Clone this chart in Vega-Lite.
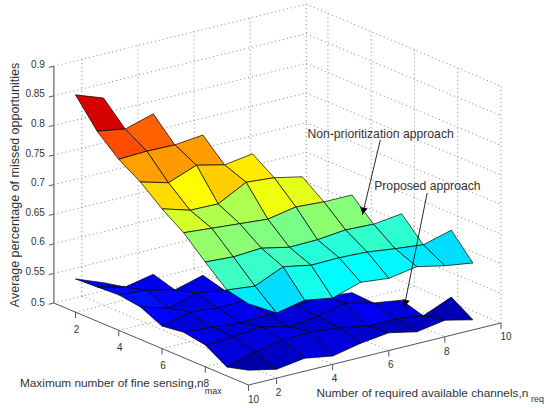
{"$schema":"https://vega.github.io/schema/vega-lite/v6.json","width":544,"height":408,"padding":0,"autosize":{"type":"fit","contains":"padding"},"background":"white","config":{"view":{"stroke":null}},
"datasets":{
"surface":[
{"s":"b","m":2,"r":2,"z":0.538},{"s":"b","m":2,"r":1,"z":0.556},
{"s":"b","m":3,"r":3,"z":0.556},{"s":"b","m":3,"r":2,"z":0.546},{"s":"b","m":3,"r":1,"z":0.558},
{"s":"b","m":4,"r":4,"z":0.558},{"s":"b","m":4,"r":3,"z":0.545},{"s":"b","m":4,"r":2,"z":0.556},{"s":"b","m":4,"r":1,"z":0.56},
{"s":"b","m":5,"r":5,"z":0.54},{"s":"b","m":5,"r":4,"z":0.548},{"s":"b","m":5,"r":3,"z":0.555},{"s":"b","m":5,"r":2,"z":0.541},{"s":"b","m":5,"r":1,"z":0.555},
{"s":"b","m":6,"r":6,"z":0.527},{"s":"b","m":6,"r":5,"z":0.539},{"s":"b","m":6,"r":4,"z":0.547},{"s":"b","m":6,"r":3,"z":0.545},{"s":"b","m":6,"r":2,"z":0.55},{"s":"b","m":6,"r":1,"z":0.538},
{"s":"b","m":7,"r":7,"z":0.54},{"s":"b","m":7,"r":6,"z":0.544},{"s":"b","m":7,"r":5,"z":0.542},{"s":"b","m":7,"r":4,"z":0.537},{"s":"b","m":7,"r":3,"z":0.535},{"s":"b","m":7,"r":2,"z":0.54},{"s":"b","m":7,"r":1,"z":0.543},
{"s":"b","m":8,"r":8,"z":0.531},{"s":"b","m":8,"r":7,"z":0.538},{"s":"b","m":8,"r":6,"z":0.549},{"s":"b","m":8,"r":5,"z":0.539},{"s":"b","m":8,"r":4,"z":0.532},{"s":"b","m":8,"r":3,"z":0.544},{"s":"b","m":8,"r":2,"z":0.539},{"s":"b","m":8,"r":1,"z":0.537},
{"s":"b","m":9,"r":9,"z":0.54},{"s":"b","m":9,"r":8,"z":0.52},{"s":"b","m":9,"r":7,"z":0.526},{"s":"b","m":9,"r":6,"z":0.526},{"s":"b","m":9,"r":5,"z":0.534},{"s":"b","m":9,"r":4,"z":0.539},{"s":"b","m":9,"r":3,"z":0.537},{"s":"b","m":9,"r":2,"z":0.529},{"s":"b","m":9,"r":1,"z":0.515},
{"s":"b","m":10,"r":9,"z":0.517},{"s":"b","m":10,"r":8,"z":0.528},{"s":"b","m":10,"r":7,"z":0.52},{"s":"b","m":10,"r":6,"z":0.53},{"s":"b","m":10,"r":5,"z":0.524},{"s":"b","m":10,"r":4,"z":0.514},{"s":"b","m":10,"r":3,"z":0.522},{"s":"b","m":10,"r":2,"z":0.515},{"s":"b","m":10,"r":1,"z":0.525},
{"s":"u","m":2,"r":2,"z":0.85},{"s":"u","m":2,"r":1,"z":0.867},
{"s":"u","m":3,"r":3,"z":0.827},{"s":"u","m":3,"r":2,"z":0.813},{"s":"u","m":3,"r":1,"z":0.821},
{"s":"u","m":4,"r":4,"z":0.795},{"s":"u","m":4,"r":3,"z":0.79},{"s":"u","m":4,"r":2,"z":0.791},{"s":"u","m":4,"r":1,"z":0.789},
{"s":"u","m":5,"r":5,"z":0.767},{"s":"u","m":5,"r":4,"z":0.76},{"s":"u","m":5,"r":3,"z":0.771},{"s":"u","m":5,"r":2,"z":0.753},{"s":"u","m":5,"r":1,"z":0.766},
{"s":"u","m":6,"r":6,"z":0.732},{"s":"u","m":6,"r":5,"z":0.742},{"s":"u","m":6,"r":4,"z":0.746},{"s":"u","m":6,"r":3,"z":0.721},{"s":"u","m":6,"r":2,"z":0.722},{"s":"u","m":6,"r":1,"z":0.736},
{"s":"u","m":7,"r":7,"z":0.705},{"s":"u","m":7,"r":6,"z":0.705},{"s":"u","m":7,"r":5,"z":0.708},{"s":"u","m":7,"r":4,"z":0.699},{"s":"u","m":7,"r":3,"z":0.703},{"s":"u","m":7,"r":2,"z":0.707},{"s":"u","m":7,"r":1,"z":0.711},
{"s":"u","m":8,"r":8,"z":0.677},{"s":"u","m":8,"r":7,"z":0.671},{"s":"u","m":8,"r":6,"z":0.673},{"s":"u","m":8,"r":5,"z":0.668},{"s":"u","m":8,"r":4,"z":0.667},{"s":"u","m":8,"r":3,"z":0.677},{"s":"u","m":8,"r":2,"z":0.674},{"s":"u","m":8,"r":1,"z":0.677},
{"s":"u","m":9,"r":9,"z":0.653},{"s":"u","m":9,"r":8,"z":0.64},{"s":"u","m":9,"r":7,"z":0.645},{"s":"u","m":9,"r":6,"z":0.651},{"s":"u","m":9,"r":5,"z":0.653},{"s":"u","m":9,"r":4,"z":0.652},{"s":"u","m":9,"r":3,"z":0.661},{"s":"u","m":9,"r":2,"z":0.64},{"s":"u","m":9,"r":1,"z":0.645},
{"s":"u","m":10,"r":9,"z":0.613},{"s":"u","m":10,"r":8,"z":0.62},{"s":"u","m":10,"r":7,"z":0.63},{"s":"u","m":10,"r":6,"z":0.622},{"s":"u","m":10,"r":5,"z":0.627},{"s":"u","m":10,"r":4,"z":0.612},{"s":"u","m":10,"r":3,"z":0.62},{"s":"u","m":10,"r":2,"z":0.61},{"s":"u","m":10,"r":1,"z":0.637}
],
"grid":[
{"id":"a2","o":0,"r":2,"m":1,"z":0.5},{"id":"a2","o":1,"r":2,"m":1,"z":0.9},
{"id":"a4","o":0,"r":4,"m":1,"z":0.5},{"id":"a4","o":1,"r":4,"m":1,"z":0.9},
{"id":"a6","o":0,"r":6,"m":1,"z":0.5},{"id":"a6","o":1,"r":6,"m":1,"z":0.9},
{"id":"a8","o":0,"r":8,"m":1,"z":0.5},{"id":"a8","o":1,"r":8,"m":1,"z":0.9},
{"id":"a10","o":0,"r":10,"m":1,"z":0.5},{"id":"a10","o":1,"r":10,"m":1,"z":0.9},
{"id":"b2","o":0,"r":10,"m":2,"z":0.5},{"id":"b2","o":1,"r":10,"m":2,"z":0.9},
{"id":"b4","o":0,"r":10,"m":4,"z":0.5},{"id":"b4","o":1,"r":10,"m":4,"z":0.9},
{"id":"b6","o":0,"r":10,"m":6,"z":0.5},{"id":"b6","o":1,"r":10,"m":6,"z":0.9},
{"id":"b8","o":0,"r":10,"m":8,"z":0.5},{"id":"b8","o":1,"r":10,"m":8,"z":0.9},
{"id":"b10","o":0,"r":10,"m":10,"z":0.5},{"id":"b10","o":1,"r":10,"m":10,"z":0.9},
{"id":"h50","o":0,"r":1,"m":1,"z":0.5},{"id":"h50","o":1,"r":10,"m":1,"z":0.5},{"id":"h50","o":2,"r":10,"m":10,"z":0.5},
{"id":"h55","o":0,"r":1,"m":1,"z":0.55},{"id":"h55","o":1,"r":10,"m":1,"z":0.55},{"id":"h55","o":2,"r":10,"m":10,"z":0.55},
{"id":"h60","o":0,"r":1,"m":1,"z":0.6},{"id":"h60","o":1,"r":10,"m":1,"z":0.6},{"id":"h60","o":2,"r":10,"m":10,"z":0.6},
{"id":"h65","o":0,"r":1,"m":1,"z":0.65},{"id":"h65","o":1,"r":10,"m":1,"z":0.65},{"id":"h65","o":2,"r":10,"m":10,"z":0.65},
{"id":"h70","o":0,"r":1,"m":1,"z":0.7},{"id":"h70","o":1,"r":10,"m":1,"z":0.7},{"id":"h70","o":2,"r":10,"m":10,"z":0.7},
{"id":"h75","o":0,"r":1,"m":1,"z":0.75},{"id":"h75","o":1,"r":10,"m":1,"z":0.75},{"id":"h75","o":2,"r":10,"m":10,"z":0.75},
{"id":"h80","o":0,"r":1,"m":1,"z":0.8},{"id":"h80","o":1,"r":10,"m":1,"z":0.8},{"id":"h80","o":2,"r":10,"m":10,"z":0.8},
{"id":"h85","o":0,"r":1,"m":1,"z":0.85},{"id":"h85","o":1,"r":10,"m":1,"z":0.85},{"id":"h85","o":2,"r":10,"m":10,"z":0.85},
{"id":"h90","o":0,"r":1,"m":1,"z":0.9},{"id":"h90","o":1,"r":10,"m":1,"z":0.9},{"id":"h90","o":2,"r":10,"m":10,"z":0.9},
{"id":"f2","o":0,"r":2,"m":1,"z":0.5},{"id":"f2","o":1,"r":2,"m":10,"z":0.5},
{"id":"f4","o":0,"r":4,"m":1,"z":0.5},{"id":"f4","o":1,"r":4,"m":10,"z":0.5},
{"id":"f6","o":0,"r":6,"m":1,"z":0.5},{"id":"f6","o":1,"r":6,"m":10,"z":0.5},
{"id":"f8","o":0,"r":8,"m":1,"z":0.5},{"id":"f8","o":1,"r":8,"m":10,"z":0.5},
{"id":"g2","o":0,"r":1,"m":2,"z":0.5},{"id":"g2","o":1,"r":10,"m":2,"z":0.5},
{"id":"g4","o":0,"r":1,"m":4,"z":0.5},{"id":"g4","o":1,"r":10,"m":4,"z":0.5},
{"id":"g6","o":0,"r":1,"m":6,"z":0.5},{"id":"g6","o":1,"r":10,"m":6,"z":0.5},
{"id":"g8","o":0,"r":1,"m":8,"z":0.5},{"id":"g8","o":1,"r":10,"m":8,"z":0.5}
],
"axes":[
{"id":"z","o":0,"r":1,"m":1,"z":0.5},{"id":"z","o":1,"r":1,"m":1,"z":0.9},
{"id":"mm","o":0,"r":1,"m":1,"z":0.5},{"id":"mm","o":1,"r":1,"m":10,"z":0.5},{"id":"mm","o":2,"r":10,"m":10,"z":0.5},
{"id":"tz50","o":0,"r":1,"m":1,"z":0.5},{"id":"tz50","o":1,"r":0.82,"m":1,"z":0.5},
{"id":"tz55","o":0,"r":1,"m":1,"z":0.55},{"id":"tz55","o":1,"r":0.82,"m":1,"z":0.55},
{"id":"tz60","o":0,"r":1,"m":1,"z":0.6},{"id":"tz60","o":1,"r":0.82,"m":1,"z":0.6},
{"id":"tz65","o":0,"r":1,"m":1,"z":0.65},{"id":"tz65","o":1,"r":0.82,"m":1,"z":0.65},
{"id":"tz70","o":0,"r":1,"m":1,"z":0.7},{"id":"tz70","o":1,"r":0.82,"m":1,"z":0.7},
{"id":"tz75","o":0,"r":1,"m":1,"z":0.75},{"id":"tz75","o":1,"r":0.82,"m":1,"z":0.75},
{"id":"tz80","o":0,"r":1,"m":1,"z":0.8},{"id":"tz80","o":1,"r":0.82,"m":1,"z":0.8},
{"id":"tz85","o":0,"r":1,"m":1,"z":0.85},{"id":"tz85","o":1,"r":0.82,"m":1,"z":0.85},
{"id":"tz90","o":0,"r":1,"m":1,"z":0.9},{"id":"tz90","o":1,"r":0.82,"m":1,"z":0.9},
{"id":"tm2","o":0,"r":1,"m":2,"z":0.5},{"id":"tm2","o":1,"r":1,"m":2,"z":0.49},
{"id":"tm4","o":0,"r":1,"m":4,"z":0.5},{"id":"tm4","o":1,"r":1,"m":4,"z":0.49},
{"id":"tm6","o":0,"r":1,"m":6,"z":0.5},{"id":"tm6","o":1,"r":1,"m":6,"z":0.49},
{"id":"tm8","o":0,"r":1,"m":8,"z":0.5},{"id":"tm8","o":1,"r":1,"m":8,"z":0.49},
{"id":"tm10","o":0,"r":1,"m":10,"z":0.5},{"id":"tm10","o":1,"r":1,"m":10,"z":0.49},
{"id":"tr2","o":0,"r":2,"m":10,"z":0.5},{"id":"tr2","o":1,"r":2,"m":10,"z":0.49},
{"id":"tr4","o":0,"r":4,"m":10,"z":0.5},{"id":"tr4","o":1,"r":4,"m":10,"z":0.49},
{"id":"tr6","o":0,"r":6,"m":10,"z":0.5},{"id":"tr6","o":1,"r":6,"m":10,"z":0.49},
{"id":"tr8","o":0,"r":8,"m":10,"z":0.5},{"id":"tr8","o":1,"r":8,"m":10,"z":0.49},
{"id":"tr10","o":0,"r":10,"m":10,"z":0.5},{"id":"tr10","o":1,"r":10,"m":10,"z":0.49}
],
"labels":[
{"g":"zt","t":"0.5","r":0.68,"m":1,"z":0.504},{"g":"zt","t":"0.55","r":0.68,"m":1,"z":0.556},{"g":"zt","t":"0.6","r":0.68,"m":1,"z":0.606},{"g":"zt","t":"0.65","r":0.68,"m":1,"z":0.656},{"g":"zt","t":"0.7","r":0.68,"m":1,"z":0.706},{"g":"zt","t":"0.75","r":0.68,"m":1,"z":0.756},{"g":"zt","t":"0.8","r":0.68,"m":1,"z":0.806},{"g":"zt","t":"0.85","r":0.68,"m":1,"z":0.856},{"g":"zt","t":"0.9","r":0.68,"m":1,"z":0.906},
{"g":"ct","t":"2","r":1.04,"m":2,"z":0.47},{"g":"ct","t":"4","r":1.04,"m":4,"z":0.47},{"g":"ct","t":"6","r":1.04,"m":6,"z":0.47},{"g":"ct","t":"8","r":1.04,"m":8,"z":0.47},{"g":"ct","t":"10","r":1.18,"m":10,"z":0.473},
{"g":"ct","t":"2","r":2.07,"m":10,"z":0.474},{"g":"ct","t":"4","r":4.07,"m":10,"z":0.474},{"g":"ct","t":"6","r":6.07,"m":10,"z":0.474},{"g":"ct","t":"8","r":8.07,"m":10,"z":0.474},{"g":"ct","t":"10","r":10.18,"m":10,"z":0.474},
{"g":"ti","t":"Maximum number of fine sensing,n","r":1,"m":-0.567,"z":0.3407},
{"g":"ti","t":"Number of required available channels,n","r":3.42,"m":10,"z":0.4583},
{"g":"su","t":"max","r":1,"m":7.97,"z":0.4586},
{"g":"su","t":"req","r":11.07,"m":10,"z":0.3591},
{"g":"an","t":"Non-prioritization approach","r":10.04,"m":1,"z":0.68},
{"g":"an","t":"Proposed approach","r":12.42,"m":1,"z":0.5647},
{"g":"yt","t":"Average percentage of missed opportunities","r":-0.388,"m":1,"z":0.7155}
],
"arrows":[
{"id":"n","o":0,"r":12.64,"m":1,"z":0.64},{"id":"n","o":1,"r":12.0,"m":1,"z":0.5206},
{"id":"p","o":0,"r":14.31,"m":1,"z":0.5309},{"id":"p","o":1,"r":13.49,"m":1,"z":0.3478}
],
"heads":[
{"id":"n","r":12.03,"m":1,"z":0.527},{"id":"p","r":13.53,"m":1,"z":0.354}
]
},
"layer":[
{"data":{"name":"grid"},"transform":[{"calculate":"249+28.1*(datum.r-1)-21.67*(10-datum.m)","as":"sx"},{"calculate":"385-6.89*(datum.r-1)-9.11*(10-datum.m)-(datum.z-0.5)*592","as":"sy"}],
"mark":{"type":"line","stroke":"#666666","strokeWidth":0.8,"strokeDash":[1,3]},
"encoding":{"x":{"field":"sx","type":"quantitative","scale":{"domain":[0,544],"nice":false,"zero":false},"axis":null},"y":{"field":"sy","type":"quantitative","scale":{"domain":[0,408],"reverse":true,"nice":false,"zero":false},"axis":null},"detail":{"field":"id"},"order":{"field":"o","type":"quantitative"}}},
{"data":{"name":"axes"},"transform":[{"filter":"datum.id!='z'"},{"calculate":"249+28.1*(datum.r-1)-21.67*(10-datum.m)","as":"sx"},{"calculate":"385-6.89*(datum.r-1)-9.11*(10-datum.m)-(datum.z-0.5)*592","as":"sy"}],
"mark":{"type":"line","stroke":"#555555","strokeWidth":1},
"encoding":{"x":{"field":"sx","type":"quantitative","axis":null},"y":{"field":"sy","type":"quantitative","axis":null},"detail":{"field":"id"},"order":{"field":"o","type":"quantitative"}}},
{"data":{"name":"axes"},"transform":[{"filter":"datum.id=='z'"},{"calculate":"249+28.1*(datum.r-1)-21.67*(10-datum.m)","as":"sx"},{"calculate":"385-6.89*(datum.r-1)-9.11*(10-datum.m)-(datum.z-0.5)*592","as":"sy"}],
"mark":{"type":"line","stroke":"#808080","strokeWidth":1.5},
"encoding":{"x":{"field":"sx","type":"quantitative","axis":null},"y":{"field":"sy","type":"quantitative","axis":null},"detail":{"field":"id"},"order":{"field":"o","type":"quantitative"}}},
{"data":{"name":"surface"},"transform":[
{"calculate":"[0,1,2,3,4]","as":"k"},{"flatten":["k"]},
{"calculate":"datum.r-((datum.k==1||datum.k==2)?1:0)","as":"r0"},
{"calculate":"datum.m-((datum.k==2||datum.k==3)?1:0)","as":"m0"},
{"calculate":"datum.s+'_'+datum.r0+'_'+datum.m0","as":"cell"},
{"calculate":"datum.k==0?datum.z:null","as":"zk"},
{"joinaggregate":[{"op":"count","as":"n"},{"op":"max","field":"zk","as":"c0"}],"groupby":["cell"]},
{"filter":"datum.n==5"},
{"calculate":"249+28.1*(datum.r-1)-21.67*(10-datum.m)","as":"sx"},{"calculate":"385-6.89*(datum.r-1)-9.11*(10-datum.m)-(datum.z-0.5)*592","as":"sy"}],
"mark":{"type":"line","stroke":"#000000","strokeWidth":0.7,"strokeJoin":"round"},
"encoding":{"x":{"field":"sx","type":"quantitative","axis":null},"y":{"field":"sy","type":"quantitative","axis":null},"detail":{"field":"cell"},"order":{"field":"k","type":"quantitative"},
"fill":{"field":"c0","type":"quantitative","legend":null,"scale":{"domain":[0.505,0.5544,0.6531,0.7519,0.8506,0.9],"range":["#00008f","#0000ff","#00ffff","#ffff00","#ff0000","#800000"],"interpolate":"rgb"}}}},
{"data":{"name":"arrows"},"transform":[{"calculate":"249+28.1*(datum.r-1)-21.67*(10-datum.m)","as":"sx"},{"calculate":"385-6.89*(datum.r-1)-9.11*(10-datum.m)-(datum.z-0.5)*592","as":"sy"}],
"mark":{"type":"line","stroke":"#111111","strokeWidth":0.9},
"encoding":{"x":{"field":"sx","type":"quantitative","axis":null},"y":{"field":"sy","type":"quantitative","axis":null},"detail":{"field":"id"},"order":{"field":"o","type":"quantitative"}}},
{"data":{"name":"heads"},"transform":[{"calculate":"249+28.1*(datum.r-1)-21.67*(10-datum.m)","as":"sx"},{"calculate":"385-6.89*(datum.r-1)-9.11*(10-datum.m)-(datum.z-0.5)*592","as":"sy"}],
"mark":{"type":"point","shape":"triangle-down","filled":true,"color":"#000000","size":60,"angle":12,"opacity":1},
"encoding":{"x":{"field":"sx","type":"quantitative","axis":null},"y":{"field":"sy","type":"quantitative","axis":null}}},
{"data":{"name":"labels"},"transform":[{"filter":"datum.g=='zt'"},{"calculate":"249+28.1*(datum.r-1)-21.67*(10-datum.m)","as":"sx"},{"calculate":"385-6.89*(datum.r-1)-9.11*(10-datum.m)-(datum.z-0.5)*592","as":"sy"}],
"mark":{"type":"text","align":"right","baseline":"middle","font":"Liberation Sans","fontSize":10,"fill":"#333333"},
"encoding":{"x":{"field":"sx","type":"quantitative","axis":null},"y":{"field":"sy","type":"quantitative","axis":null},"text":{"field":"t"}}},
{"data":{"name":"labels"},"transform":[{"filter":"datum.g=='ct'"},{"calculate":"249+28.1*(datum.r-1)-21.67*(10-datum.m)","as":"sx"},{"calculate":"385-6.89*(datum.r-1)-9.11*(10-datum.m)-(datum.z-0.5)*592","as":"sy"}],
"mark":{"type":"text","align":"center","baseline":"middle","font":"Liberation Sans","fontSize":10,"fill":"#333333"},
"encoding":{"x":{"field":"sx","type":"quantitative","axis":null},"y":{"field":"sy","type":"quantitative","axis":null},"text":{"field":"t"}}},
{"data":{"name":"labels"},"transform":[{"filter":"datum.g=='ti'"},{"calculate":"249+28.1*(datum.r-1)-21.67*(10-datum.m)","as":"sx"},{"calculate":"385-6.89*(datum.r-1)-9.11*(10-datum.m)-(datum.z-0.5)*592","as":"sy"}],
"mark":{"type":"text","align":"left","baseline":"middle","font":"Liberation Sans","fontSize":11.8,"fill":"#333333"},
"encoding":{"x":{"field":"sx","type":"quantitative","axis":null},"y":{"field":"sy","type":"quantitative","axis":null},"text":{"field":"t"}}},
{"data":{"name":"labels"},"transform":[{"filter":"datum.g=='an'"},{"calculate":"249+28.1*(datum.r-1)-21.67*(10-datum.m)","as":"sx"},{"calculate":"385-6.89*(datum.r-1)-9.11*(10-datum.m)-(datum.z-0.5)*592","as":"sy"}],
"mark":{"type":"text","align":"left","baseline":"middle","font":"Liberation Sans","fontSize":12.2,"fill":"#333333"},
"encoding":{"x":{"field":"sx","type":"quantitative","axis":null},"y":{"field":"sy","type":"quantitative","axis":null},"text":{"field":"t"}}},
{"data":{"name":"labels"},"transform":[{"filter":"datum.g=='su'"},{"calculate":"249+28.1*(datum.r-1)-21.67*(10-datum.m)","as":"sx"},{"calculate":"385-6.89*(datum.r-1)-9.11*(10-datum.m)-(datum.z-0.5)*592","as":"sy"}],
"mark":{"type":"text","align":"left","baseline":"middle","font":"Liberation Sans","fontSize":9,"fill":"#333333"},
"encoding":{"x":{"field":"sx","type":"quantitative","axis":null},"y":{"field":"sy","type":"quantitative","axis":null},"text":{"field":"t"}}},
{"data":{"name":"labels"},"transform":[{"filter":"datum.g=='yt'"},{"calculate":"249+28.1*(datum.r-1)-21.67*(10-datum.m)","as":"sx"},{"calculate":"385-6.89*(datum.r-1)-9.11*(10-datum.m)-(datum.z-0.5)*592","as":"sy"}],
"mark":{"type":"text","align":"center","baseline":"middle","angle":270,"font":"Liberation Sans","fontSize":12.5,"fill":"#333333"},
"encoding":{"x":{"field":"sx","type":"quantitative","axis":null},"y":{"field":"sy","type":"quantitative","axis":null},"text":{"field":"t"}}}
]}
